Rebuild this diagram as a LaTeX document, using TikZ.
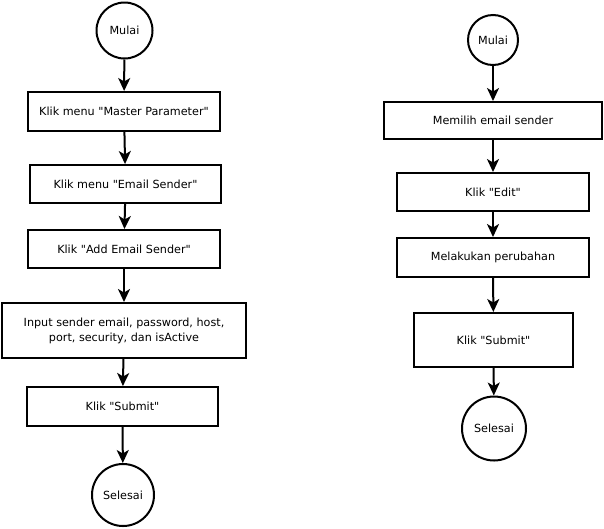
\documentclass[tikz,border=0pt]{standalone}
\usepackage{fontspec}
\newfontfamily\dvs{DejaVu Sans}
\usetikzlibrary{arrows.meta}
\begin{document}
\begin{tikzpicture}[x=1pt,y=-1pt,
  every node/.style={font=\dvs\fontsize{11.2}{15}\selectfont, align=center, inner sep=0pt},
  stepbox/.style={draw, line width=2pt, rectangle},
  term/.style={draw, line width=2pt, circle},
  flow/.style={line width=2pt, -{Stealth[length=13pt,width=12pt,inset=3.5pt]}}]
\useasboundingbox[fill=white] (0,0) rectangle (604,528);
% left column
\node[term, minimum size=56pt] (m1) at (124.5,30.5) {Mulai};
\node[stepbox, minimum width=192pt, minimum height=39pt] (b1) at (124,111.5) {Klik menu "Master Parameter"};
\node[stepbox, minimum width=191pt, minimum height=38pt] (b2) at (125.5,184) {Klik menu "Email Sender"};
\node[stepbox, minimum width=192pt, minimum height=38pt] (b3) at (124,249) {Klik "Add Email Sender"};
\node[stepbox, minimum width=244pt, minimum height=55pt] (b4) at (124,330.5) {Input sender email, password, host,\\port, security, dan isActive};
\node[stepbox, minimum width=191pt, minimum height=39pt] (b5) at (122.5,406.5) {Klik "Submit"};
\node[term, minimum size=62pt] (s1) at (123,495) {Selesai};
\draw[flow] (m1) -- (b1);
\draw[flow] (b1) -- (b2);
\draw[flow] (b2) -- (b3);
\draw[flow] (b3) -- (b4);
\draw[flow] (b4) -- (b5);
\draw[flow] (b5) -- (s1);
% right column
\node[term, minimum size=50pt] (m2) at (493,40) {Mulai};
\node[stepbox, minimum width=218pt, minimum height=37pt] (c1) at (493,120.5) {Memilih email sender};
\node[stepbox, minimum width=192pt, minimum height=38pt] (c2) at (493,192) {Klik "Edit"};
\node[stepbox, minimum width=192pt, minimum height=39pt] (c3) at (493,257.5) {Melakukan perubahan};
\node[stepbox, minimum width=159pt, minimum height=54pt] (c4) at (493.5,340) {Klik "Submit"};
\node[term, minimum size=64pt] (s2) at (494,428.5) {Selesai};
\draw[flow] (m2) -- (c1);
\draw[flow] (c1) -- (c2);
\draw[flow] (c2) -- (c3);
\draw[flow] (c3) -- (c4);
\draw[flow] (c4) -- (s2);
\end{tikzpicture}
\end{document}
